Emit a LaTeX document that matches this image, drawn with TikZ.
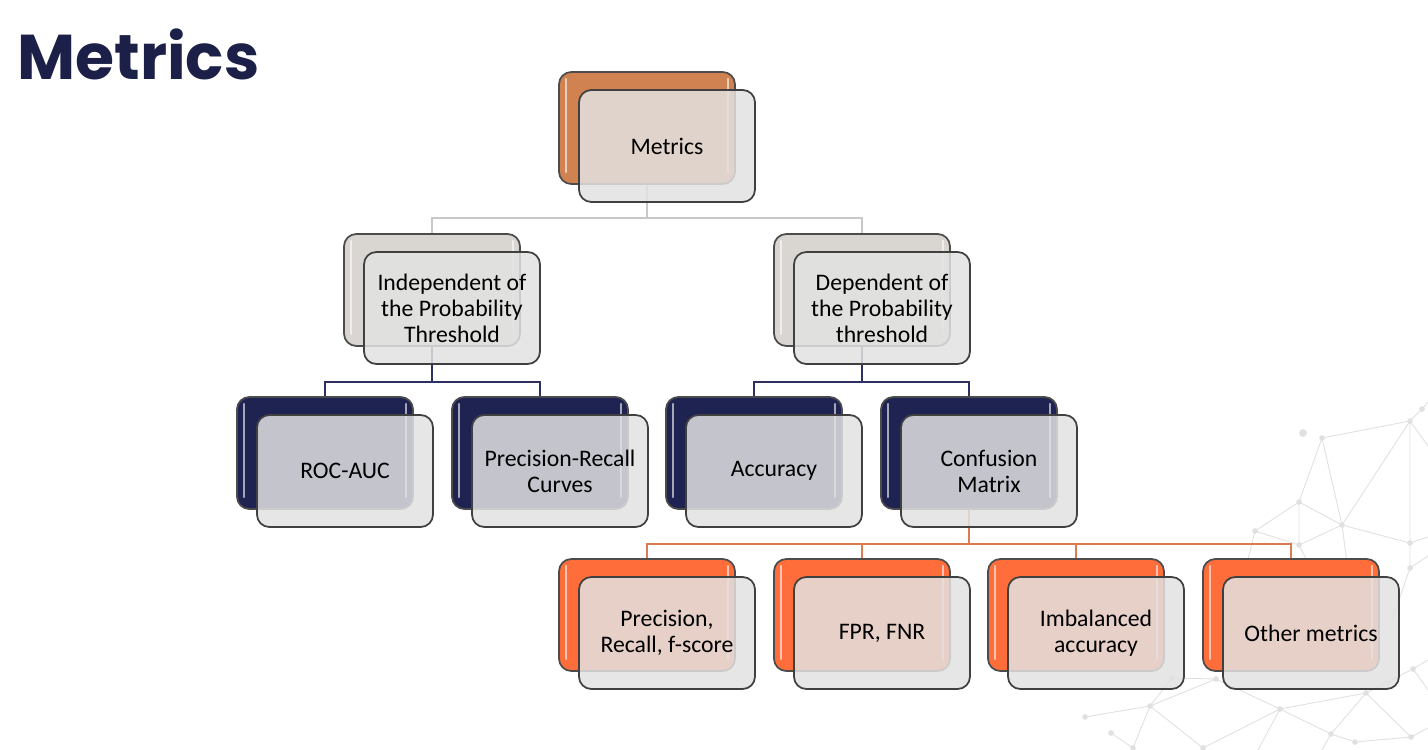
\documentclass[tikz,border=0pt]{standalone}
\usepackage{fontspec}
\setmainfont{Carlito}
\newfontfamily\titlefont{Poppins}
\definecolor{titlenavy}{RGB}{28,31,72}
\definecolor{copper}{RGB}{208,131,80}
\definecolor{stone}{RGB}{217,214,210}
\definecolor{navy}{RGB}{31,35,82}
\definecolor{flame}{RGB}{255,110,58}
\definecolor{frontgrey}{RGB}{226,226,226}
\definecolor{wiregrey}{RGB}{200,200,200}
\definecolor{wirenavy}{RGB}{45,49,95}
\definecolor{wireorange}{RGB}{222,122,82}
\definecolor{netgrey}{RGB}{224,224,224}
\begin{document}
\begin{tikzpicture}[x=0.02cm, y=-0.02cm,
    back/.style = {draw=black!70, line width=1pt,
        rounded corners=7pt,
        minimum width=3.52cm, minimum height=2.24cm,
        path picture={
            \draw[white, opacity=0.6, line width=1.3pt, line cap=round]
                ([xshift=0.14cm,yshift=-0.14cm]path picture bounding box.north west) --
                ([xshift=0.14cm,yshift=0.24cm]path picture bounding box.south west);
            \draw[white, opacity=0.6, line width=1.3pt, line cap=round]
                ([xshift=-0.14cm,yshift=-0.14cm]path picture bounding box.north east) --
                ([xshift=-0.14cm,yshift=0.24cm]path picture bounding box.south east);}},
    card/.style = {draw=black!75, line width=1pt,
        rounded corners=7pt, fill=frontgrey, fill opacity=0.85, text opacity=1,
        minimum width=3.52cm, minimum height=2.24cm,
        align=center, font=\fontsize{13.5}{14.8}\selectfont},
    wire/.style = {line width=0.9pt},
    net/.style = {draw=netgrey, line width=0.5pt}]

\useasboundingbox (0,0) rectangle (1428,750);

% Title
\node[anchor=base west, inner sep=0pt, text=titlenavy,
    font=\titlefont\bfseries\fontsize{36}{40}\selectfont] (title) at (17,80) {Metrics};

% Network in the corner
\coordinate (n1) at (1422,409);  \coordinate (n2) at (1410,421);
\coordinate (n3) at (1303,433);  \coordinate (n4) at (1322,438);
\coordinate (n5) at (1299,502);  \coordinate (n6) at (1342,525);
\coordinate (n7) at (1255,531);  \coordinate (n8) at (1299,545);
\coordinate (n9) at (1410,543);  \coordinate (n10) at (1410,568);
\coordinate (n11) at (1280,709); \coordinate (n12) at (1331,734);
\coordinate (n13) at (1355,742); \coordinate (n14) at (1366,693);
\coordinate (n15) at (1413,669); \coordinate (n16) at (1411,737);
\coordinate (n17) at (1150,706); \coordinate (n18) at (1085,717);
\coordinate (n19) at (1111,733); \coordinate (n20) at (1133,748);
\coordinate (n21) at (1203,748); \coordinate (n22) at (1216,679);
\coordinate (n23) at (1172,678);
\draw[net] (n1) -- (n2) -- (n4) -- (n5) -- (n7) -- (n8) -- (n5) -- (n6) -- (n4);
\draw[net] (n2) -- (n9) -- (n10) (n2) -- (n6) -- (n9) (n6) -- (n8);
\draw[net] (n1) -- (1428,402) (n2) -- (1428,446) (n9) -- (1428,537) (n10) -- (1428,556);
\draw[net] (n6) -- (1352,600) (n7) -- (1238,600) (n8) -- (1322,590) (n10) -- (1392,620);
\draw[net] (n11) -- (n14) -- (n16) -- (n13) -- (n12) -- (n11) (n14) -- (n12) (n14) -- (n15);
\draw[net] (n15) -- (1428,660) (n15) -- (1428,690) (n16) -- (1428,728) (n12) -- (1322,750);
\draw[net] (n11) -- (n22) -- (n17) -- (n18) (n17) -- (n23) (n17) -- (n20) -- (n19)
    (n17) -- (n21) -- (n11) (n22) -- (n23) (n11) -- (1258,750);
\foreach \p in {n1,n2,n4,n5,n6,n7,n8,n9,n10,n11,n12,n13,n14,n15,n16,n17,n18,n19,n20,n21,n22,n23}
    \fill[netgrey] (\p) circle (1.6pt);
\fill[netgrey] (n3) circle (2.2pt);

% Back cards
\node[back, fill=copper] (rootb) at (647,128) {};
\node[back, fill=stone] (indb) at (432,290) {};
\node[back, fill=stone] (depb) at (862,290) {};
\node[back, fill=navy] (rocb) at (325,453) {};
\node[back, fill=navy] (prcb) at (540,453) {};
\node[back, fill=navy] (accb) at (754,453) {};
\node[back, fill=navy] (cmb) at (969,453) {};
\node[back, fill=flame] (prfb) at (647,615) {};
\node[back, fill=flame] (fprb) at (862,615) {};
\node[back, fill=flame] (imbb) at (1076,615) {};
\node[back, fill=flame] (othb) at (1291,615) {};

% Connectors
\draw[wire, wiregrey] (rootb.south) -- ++(0,33) -| (indb.north);
\draw[wire, wiregrey] (rootb.south) -- ++(0,33) -| (depb.north);
\draw[wire, wirenavy] (indb.south) -- ++(0,35) -| (rocb.north);
\draw[wire, wirenavy] (indb.south) -- ++(0,35) -| (prcb.north);
\draw[wire, wirenavy] (depb.south) -- ++(0,35) -| (accb.north);
\draw[wire, wirenavy] (depb.south) -- ++(0,35) -| (cmb.north);
\draw[wire, wireorange] (cmb.south) -- ++(0,34) -| (prfb.north);
\draw[wire, wireorange] (cmb.south) -- ++(0,34) -| (fprb.north);
\draw[wire, wireorange] (cmb.south) -- ++(0,34) -| (imbb.north);
\draw[wire, wireorange] (cmb.south) -- ++(0,34) -| (othb.north);

% Front cards
\node[card] (root) at (667,146) {Metrics};
\node[card] (ind) at (452,308) {Independent of\\the Probability\\Threshold};
\node[card] (dep) at (882,308) {Dependent of\\the Probability\\threshold};
\node[card] (roc) at (345,471) {ROC-AUC};
\node[card] (prc) at (560,471) {Precision-Recall\\Curves};
\node[card] (acc) at (774,471) {Accuracy};
\node[card] (cm) at (989,471) {Confusion\\Matrix};
\node[card] (prf) at (667,633) {Precision,\\Recall, f-score};
\node[card] (fpr) at (882,633) {FPR, FNR};
\node[card] (imb) at (1096,633) {Imbalanced\\accuracy};
\node[card] (oth) at (1311,633) {Other metrics};

\end{tikzpicture}
\end{document}
